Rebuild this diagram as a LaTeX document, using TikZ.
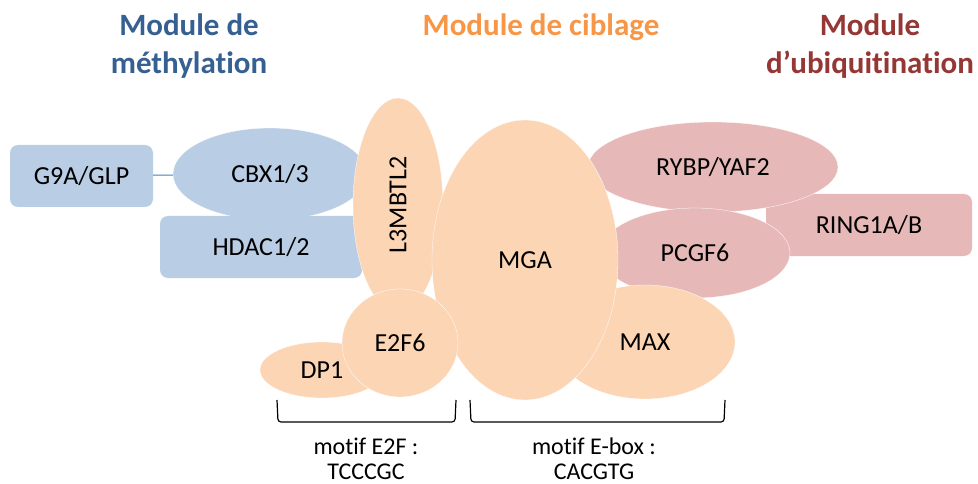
\documentclass[tikz,border=0pt]{standalone}
\usepackage{fontspec}
\setmainfont{Carlito}[Ligatures=NoCommon]
\usetikzlibrary{shapes.geometric}
\definecolor{blueFill}{HTML}{B9CDE5}
\definecolor{orangeFill}{HTML}{FCD5B5}
\definecolor{redFill}{HTML}{E6B9B8}
\definecolor{blueTitle}{HTML}{376092}
\definecolor{orangeTitle}{HTML}{F79646}
\definecolor{redTitle}{HTML}{953735}
\definecolor{blueLine}{HTML}{4A7EBB}
\tikzset{
	prot/.style={ellipse, draw=white, line width=0.3pt, inner sep=0pt, font=\fontsize{26}{30}\selectfont},
	protbox/.style={rectangle, rounded corners=8pt, inner sep=0pt, font=\fontsize{26}{30}\selectfont},
	title/.style={align=center, inner sep=0pt, font=\fontsize{31}{38}\selectfont\bfseries},
	motif/.style={align=center, inner sep=0pt, font=\fontsize{24}{25}\selectfont},
	bracket/.style={line width=1.2pt, rounded corners=3pt}
}

\begin{document}
\begin{tikzpicture}[x=1pt, y=-1pt]
			%%%%% START %%%%%
			\useasboundingbox (0,0) rectangle (978,484);
			
			%%%%% methylation %%%%%
			\node[protbox, fill=blueFill, minimum width=143pt, minimum height=62pt] (g9a) at (81.5,176) {G9A/GLP};
			\node[prot, fill=blueFill, minimum width=194pt, minimum height=92pt] (cbx) at (270,174) {CBX1/3};
			\draw[blueLine, line width=1pt] (g9a) -- (cbx);
			\node[protbox, fill=blueFill, minimum width=202pt, minimum height=62pt] (hdac) at (261,247) {HDAC1/2};
			
			\node[prot, fill=orangeFill, rotate=90, minimum width=214pt, minimum height=90pt] (l3mbtl) at (398,205) {L3MBTL2};
			
			%%%%% ubiquitination %%%%%
			\node[protbox, fill=redFill, minimum width=206pt, minimum height=62pt] (ring) at (869,225) {RING1A/B};
			\node[prot, fill=redFill, minimum width=250pt, minimum height=90pt] (rybp) at (713,167) {RYBP/YAF2};
			\node[prot, fill=redFill, minimum width=190pt, minimum height=90pt] (pcgf) at (695,253) {PCGF6};
			
			%%%%% ciblage %%%%%
			\node[prot, fill=orangeFill, minimum width=180pt, minimum height=114pt] (max) at (645,342) {MAX};
			\node[prot, fill=orangeFill, minimum width=186pt, minimum height=280pt] (mga) at (525,260) {MGA};
			\node[prot, fill=orangeFill, minimum width=124pt, minimum height=56pt] (dp1) at (322,370) {DP1};
			\node[prot, fill=orangeFill, minimum width=116pt, minimum height=108pt] (e2f) at (400,343) {E2F6};
			
			%%%%% motifs %%%%%
			\draw[bracket] (277,400) -- (278,422) -- (455,422) -- (456,400);
			\draw[bracket] (470,400) -- (471,422) -- (724,422) -- (725,400);
			\node[motif] (e2fmotif) at (366,459) {motif E2F :\\TCCCGC};
			\node[motif] (eboxmotif) at (594,459) {motif E-box :\\CACGTG};
			
			%%%%% titles %%%%%
			\node[title, text=blueTitle] (methyl) at (189,46) {Module de\\méthylation};
			\node[title, text=orangeTitle] (ciblage) at (541,27) {Module de ciblage};
			\node[title, text=redTitle] (ubiq) at (870,46) {Module\\d’ubiquitination};
			
			%%%%% END %%%%%
\end{tikzpicture}
\end{document}
